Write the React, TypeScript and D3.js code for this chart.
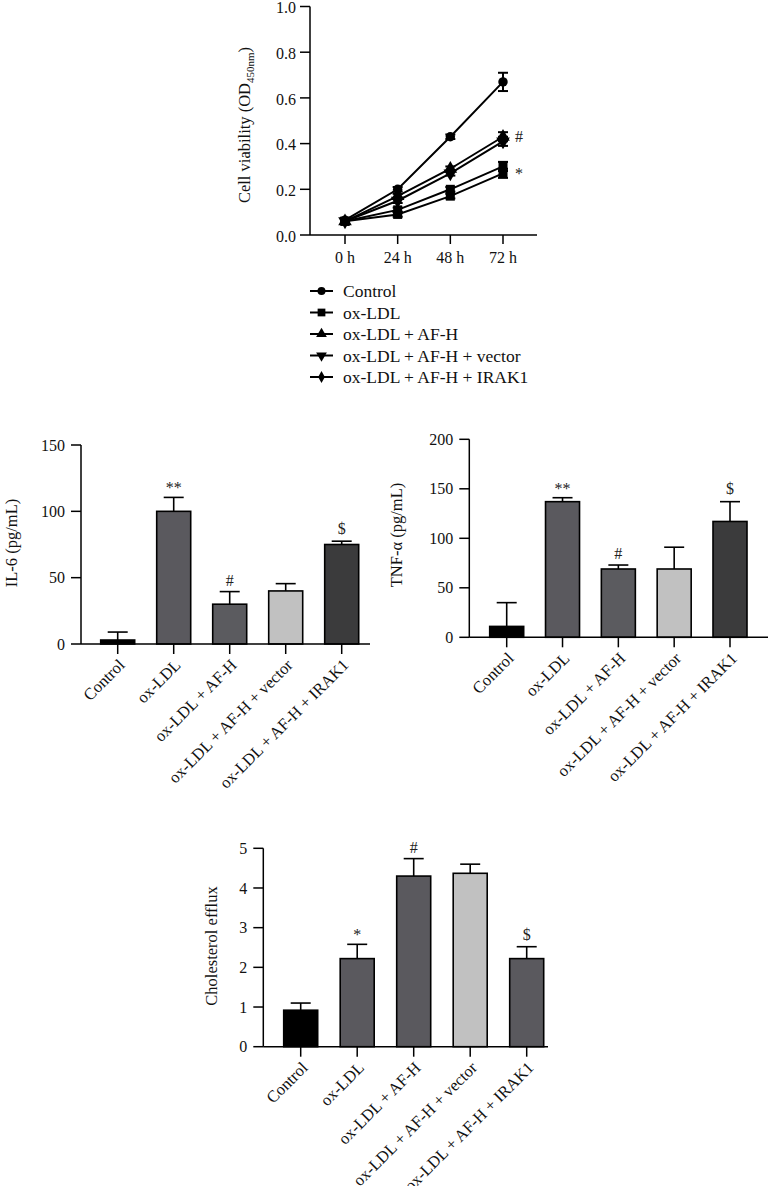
import React from "react";
import * as d3 from "d3";

const FONT = "'Liberation Serif', 'Times New Roman', serif";

// ---------- Line chart data ----------
const timeLabels = ["0 h", "24 h", "48 h", "72 h"];
const lineGroups = ["Control", "ox-LDL", "ox-LDL + AF-H", "ox-LDL + AF-H + vector", "ox-LDL + AF-H + IRAK1"];
const controlVals = [0.065, 0.2, 0.43, 0.67];
const oxLdlVals = [0.06, 0.09, 0.17, 0.27];
const afhVals = [0.06, 0.17, 0.29, 0.43];
const vectorVals = [0.06, 0.15, 0.27, 0.41];
const irakVals = [0.06, 0.11, 0.2, 0.3];
const controlErr = [0.01, 0.01, 0.01, 0.04];
const oxLdlErr = [0.01, 0.01, 0.01, 0.02];
const afhErr = [0.01, 0.01, 0.01, 0.02];
const vectorErr = [0.01, 0.01, 0.01, 0.02];
const irakErr = [0.01, 0.01, 0.01, 0.02];
const lineTicks = [0, 0.2, 0.4, 0.6, 0.8, 1.0];

// ---------- Bar chart data ----------
const barCats = ["Control", "ox-LDL", "ox-LDL + AF-H", "ox-LDL + AF-H + vector", "ox-LDL + AF-H + IRAK1"];
const il6Vals = [3, 100, 30, 40, 75];
const il6Err = [6, 10.5, 9.5, 5.5, 2.5];
const il6Marks = ["", "**", "#", "", "$"];
const il6Ticks = [0, 50, 100, 150];
const il6Colors = ["#000000", "#5a595e", "#5b5b5f", "#c1c1c1", "#3b3b3c"];

const tnfVals = [11, 137, 69, 69, 117];
const tnfErr = [24, 4, 4, 22, 20];
const tnfMarks = ["", "**", "#", "", "$"];
const tnfTicks = [0, 50, 100, 150, 200];
const tnfColors = ["#000000", "#5a595e", "#5b5b5f", "#c1c1c1", "#3b3b3c"];

const cholVals = [0.92, 2.22, 4.3, 4.37, 2.22];
const cholErr = [0.18, 0.36, 0.44, 0.23, 0.3];
const cholMarks = ["", "*", "#", "", "$"];
const cholTicks = [0, 1, 2, 3, 4, 5];
const cholColors = ["#000000", "#5a595e", "#5a595e", "#c1c1c1", "#5a595e"];

type BarProps = {
  values: number[];
  errs: number[];
  marks: string[];
  ticks: number[];
  colors: string[];
  yMax: number;
  axisX: number;
  y0: number;
  yTop: number;
  c0: number;
  c1: number;
  xEnd: number;
  label: string;
  labelX: number;
  labelY: number;
  markGap: number[];
};

function BarChart(p: BarProps) {
  const y = d3.scaleLinear().domain([0, p.yMax]).range([p.y0, p.yTop]);
  const x = d3.scalePoint<string>().domain(barCats).range([p.c0, p.c1]);
  const bw = 34;
  return (
    <g>
      {barCats.map((c, i) => {
        const cx = x(c)!;
        const top = y(p.values[i]);
        const eTop = y(p.values[i] + p.errs[i]);
        return (
          <g key={c}>
            <line x1={cx} x2={cx} y1={top} y2={eTop} stroke="#000" strokeWidth={1.6} />
            <line x1={cx - 10} x2={cx + 10} y1={eTop} y2={eTop} stroke="#000" strokeWidth={1.6} />
            <rect x={cx - bw / 2} y={top} width={bw} height={p.y0 - top} fill={p.colors[i]} stroke="#000" strokeWidth={1.6} />
            {p.marks[i] && (
              <text x={cx} y={eTop - p.markGap[i]} textAnchor="middle" fontSize={16} fontFamily={FONT} fill="#222">
                {p.marks[i]}
              </text>
            )}
            <line x1={cx} x2={cx} y1={p.y0} y2={p.y0 + 10} stroke="#000" strokeWidth={1.5} />
            <text
              transform={`translate(${cx + 8},${p.y0 + 22}) rotate(-45)`}
              textAnchor="end"
              fontSize={16.5}
              fontFamily={FONT}
              fill="#111"
            >
              {c}
            </text>
          </g>
        );
      })}
      <line x1={p.axisX} x2={p.axisX} y1={p.y0} y2={p.yTop} stroke="#000" strokeWidth={1.5} />
      <line x1={p.axisX} x2={p.xEnd} y1={p.y0} y2={p.y0} stroke="#000" strokeWidth={1.5} />
      {p.ticks.map((t) => (
        <g key={t}>
          <line x1={p.axisX - 10} x2={p.axisX} y1={y(t)} y2={y(t)} stroke="#000" strokeWidth={1.5} />
          <text x={p.axisX - 16} y={y(t)} dy="0.35em" textAnchor="end" fontSize={16} fontFamily={FONT} fill="#111">
            {t}
          </text>
        </g>
      ))}
      <text
        transform={`translate(${p.labelX + 5},${p.labelY}) rotate(-90)`}
        textAnchor="middle"
        fontSize={16.5}
        fontFamily={FONT}
        fill="#111"
      >
        {p.label}
      </text>
    </g>
  );
}

function LineChart() {
  const axisX = 310;
  const y = d3.scaleLinear().domain([0, 1]).range([235, 6.5]);
  const x = d3.scalePoint<string>().domain(timeLabels).range([345, 503]);
  const series = [
    { vals: controlVals, err: controlErr, sym: d3.symbolCircle, size: 70, rot: 0 },
    { vals: oxLdlVals, err: oxLdlErr, sym: d3.symbolSquare, size: 81, rot: 0 },
    { vals: afhVals, err: afhErr, sym: d3.symbolTriangle, size: 80, rot: 0 },
    { vals: vectorVals, err: vectorErr, sym: d3.symbolTriangle, size: 80, rot: 180 },
    { vals: irakVals, err: irakErr, sym: d3.symbolSquare, size: 81, rot: 0 },
  ];
  const legendSyms = [
    { sym: d3.symbolCircle, size: 50, rot: 0 },
    { sym: d3.symbolSquare, size: 60, rot: 0 },
    { sym: d3.symbolTriangle, size: 50, rot: 0 },
    { sym: d3.symbolTriangle, size: 50, rot: 180 },
    { sym: d3.symbolDiamond, size: 40, rot: 0 },
  ];
  const line = d3
    .line<number>()
    .x((_, i) => x(timeLabels[i])!)
    .y((d) => y(d));
  const legendY = d3.scalePoint<string>().domain(lineGroups).range([291, 377]);
  return (
    <g>
      {series.map((s, k) => (
        <g key={k}>
          <path d={line(s.vals)!} fill="none" stroke="#000" strokeWidth={2} />
          {s.vals.map((v, i) => {
            const cx = x(timeLabels[i])!;
            const e1 = y(v + s.err[i]);
            const e2 = y(v - s.err[i]);
            return (
              <g key={i}>
                <line x1={cx} x2={cx} y1={e1} y2={e2} stroke="#000" strokeWidth={2} />
                <line x1={cx - 5} x2={cx + 5} y1={e1} y2={e1} stroke="#000" strokeWidth={2} />
                <line x1={cx - 5} x2={cx + 5} y1={e2} y2={e2} stroke="#000" strokeWidth={2} />
                <path
                  d={d3.symbol().type(s.sym).size(s.size)()!}
                  transform={`translate(${cx},${y(v)}) rotate(${s.rot})`}
                  fill="#000"
                />
              </g>
            );
          })}
        </g>
      ))}
      <text x={515} y={136} dy="0.35em" fontSize={16} fontFamily={FONT} fill="#222">#</text>
      <text x={515} y={173} dy="0.35em" fontSize={16} fontFamily={FONT} fill="#222">*</text>
      <line x1={axisX} x2={axisX} y1={235} y2={6.5} stroke="#000" strokeWidth={1.5} />
      <line x1={axisX} x2={537} y1={235} y2={235} stroke="#000" strokeWidth={1.5} />
      {lineTicks.map((t) => (
        <g key={t}>
          <line x1={axisX - 10} x2={axisX} y1={y(t)} y2={y(t)} stroke="#000" strokeWidth={1.5} />
          <text x={axisX - 14} y={y(t)} dy="0.42em" textAnchor="end" fontSize={16} fontFamily={FONT} fill="#111">
            {t.toFixed(1)}
          </text>
        </g>
      ))}
      {timeLabels.map((t) => (
        <g key={t}>
          <line x1={x(t)!} x2={x(t)!} y1={235} y2={244} stroke="#000" strokeWidth={1.5} />
          <text x={x(t)!} y={263} textAnchor="middle" fontSize={16} fontFamily={FONT} fill="#111">
            {t}
          </text>
        </g>
      ))}
      <text transform="translate(250,125) rotate(-90)" textAnchor="middle" fontSize={16.5} fontFamily={FONT} fill="#111">
        Cell viability (OD
        <tspan fontSize={11} dy={4}>450nm</tspan>
        <tspan dy={-4}>)</tspan>
      </text>
      {lineGroups.map((g, i) => {
        const ly = legendY(g)!;
        return (
          <g key={g}>
            <line x1={310} x2={333} y1={ly} y2={ly} stroke="#000" strokeWidth={2} />
            <path
              d={d3.symbol().type(legendSyms[i].sym).size(legendSyms[i].size)()!}
              transform={`translate(321.5,${ly}) rotate(${legendSyms[i].rot})`}
              fill="#000"
            />
            <text x={343} y={ly} dy="0.35em" fontSize={17.5} fontFamily={FONT} fill="#111">
              {g}
            </text>
          </g>
        );
      })}
    </g>
  );
}

export default function App() {
  return (
    <svg
      width={769}
      height={1186}
      style={{ position: "absolute", left: 0, top: 0, background: "#fff" }}
    >
      <rect width={769} height={1186} fill="#fff" />
      <LineChart />
      <BarChart
        values={il6Vals}
        errs={il6Err}
        marks={il6Marks}
        ticks={il6Ticks}
        colors={il6Colors}
        yMax={150}
        axisX={81}
        y0={644}
        yTop={445}
        c0={117.7}
        c1={341.7}
        xEnd={370}
        label="IL-6 (pg/mL)"
        labelX={12}
        labelY={543}
        markGap={[6, 4, 6, 6, 7]}
      />
      <BarChart
        values={tnfVals}
        errs={tnfErr}
        marks={tnfMarks}
        ticks={tnfTicks}
        colors={tnfColors}
        yMax={200}
        axisX={469.3}
        y0={637.3}
        yTop={439.3}
        c0={506.7}
        c1={730}
        xEnd={768}
        label="TNF-α (pg/mL)"
        labelX={397}
        labelY={535}
        markGap={[6, 4, 6, 6, 8]}
      />
      <BarChart
        values={cholVals}
        errs={cholErr}
        marks={cholMarks}
        ticks={cholTicks}
        colors={cholColors}
        yMax={5}
        axisX={263.3}
        y0={1046.7}
        yTop={848.3}
        c0={300.7}
        c1={526.7}
        xEnd={548}
        label="Cholesterol efflux"
        labelX={212}
        labelY={946}
        markGap={[6, 4, 6, 6, 7]}
      />
    </svg>
  );
}
